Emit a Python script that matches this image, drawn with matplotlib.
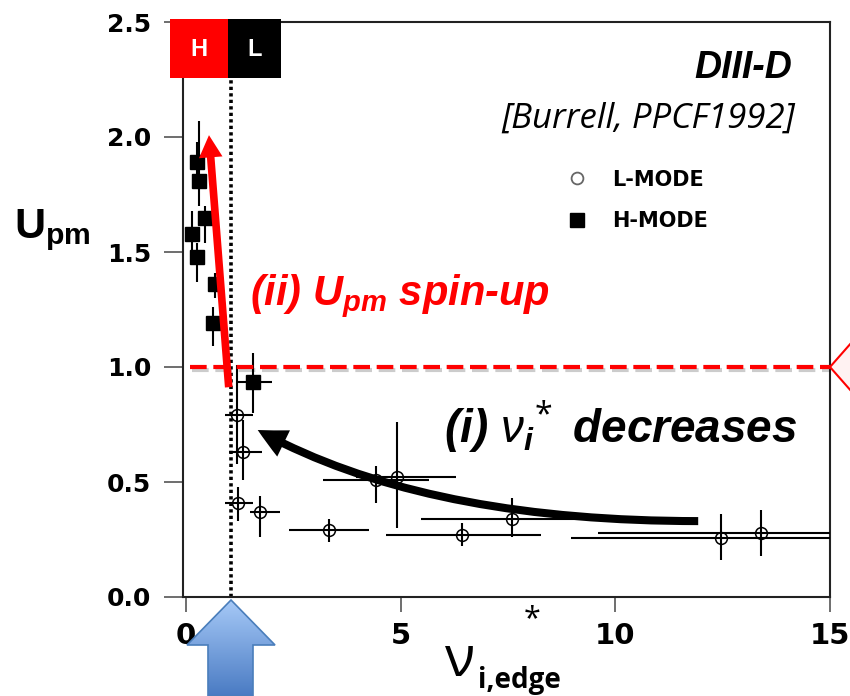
import numpy as np
import matplotlib.pyplot as plt
from matplotlib.patches import Polygon, Rectangle, FancyArrowPatch, ArrowStyle
from matplotlib.path import Path
from matplotlib.lines import Line2D
from matplotlib.colors import LinearSegmentedColormap
import matplotlib.patheffects as pe

plt.rcParams['mathtext.fontset'] = 'custom'
plt.rcParams['mathtext.rm'] = 'Open Sans'
plt.rcParams['mathtext.it'] = 'Liberation Sans:italic:bold'
plt.rcParams['mathtext.bf'] = 'Liberation Sans:bold'
plt.rcParams['mathtext.sf'] = 'Liberation Sans:italic'

# H-mode points (filled squares), bounds of the error bars
h_x = np.array([0.26, 0.30, 0.44, 0.14, 0.26, 0.67, 0.63, 1.55])
h_y = np.array([1.89, 1.81, 1.65, 1.58, 1.48, 1.36, 1.19, 0.935])
h_xlo = np.array([0.12, 0.16, 0.32, 0.02, 0.12, 0.55, 0.50, 1.18])
h_xhi = np.array([0.40, 0.44, 0.58, 0.28, 0.42, 0.80, 0.76, 2.00])
h_ylo = np.array([1.80, 1.70, 1.54, 1.50, 1.37, 1.30, 1.09, 0.80])
h_yhi = np.array([1.98, 2.07, 1.70, 1.68, 1.54, 1.41, 1.26, 1.06])

# L-mode points (open circles)
l_x = np.array([1.18, 1.32, 1.21, 1.72, 3.34, 4.43, 4.92, 6.43, 7.59, 12.46, 13.39])
l_y = np.array([0.79, 0.63, 0.41, 0.37, 0.29, 0.51, 0.52, 0.27, 0.34, 0.255, 0.28])
l_xlo = np.array([0.90, 1.00, 0.90, 1.48, 2.41, 3.18, 3.97, 4.66, 5.47, 8.96, 9.60])
l_xhi = np.array([1.55, 1.76, 1.55, 2.18, 4.27, 5.66, 6.30, 8.26, 9.84, 16.0, 16.0])
l_ylo = np.array([0.58, 0.51, 0.33, 0.26, 0.24, 0.41, 0.30, 0.22, 0.26, 0.16, 0.18])
l_yhi = np.array([1.01, 0.77, 0.48, 0.44, 0.34, 0.57, 0.76, 0.32, 0.43, 0.36, 0.38])

x_ticks = [0, 5, 10, 15]
y_ticks = [0.0, 0.5, 1.0, 1.5, 2.0, 2.5]
lh_boundary = 1.05
upm_ref = 1.0

fig = plt.figure(figsize=(8.5, 6.96), dpi=100)
ax = fig.add_axes([183 / 850, 99 / 696, 647 / 850, 575 / 696])
ax.set_xlim(-0.07, 15.0)
ax.set_ylim(0, 2.5)

ax.errorbar(l_x, l_y, xerr=[l_x - l_xlo, l_xhi - l_x], yerr=[l_y - l_ylo, l_yhi - l_y],
            fmt='o', ms=8.5, mfc='none', mec='black', mew=1.1, ecolor='black',
            elinewidth=1.5, capsize=0, zorder=3)
ax.errorbar(h_x, h_y, xerr=[h_x - h_xlo, h_xhi - h_x], yerr=[h_y - h_ylo, h_yhi - h_y],
            fmt='s', ms=10.5, mfc='black', mec='black', ecolor='black',
            elinewidth=1.5, capsize=0, zorder=3)

# reference lines
ax.vlines(lh_boundary, 0, 2.26, colors='black', lw=2.6, linestyles=(0, (0.9, 0.9)), zorder=2)
ax.hlines(upm_ref, 0.1, 15, colors='red', lw=3, linestyles=(0, (4, 1.6)), zorder=4,
          path_effects=[pe.SimpleLineShadow(offset=(1.5, -2), alpha=0.2), pe.Normal()])

ax.set_xticks(x_ticks)
ax.set_xticklabels([str(t) for t in x_ticks], fontsize=21, fontweight='bold')
ax.set_yticks(y_ticks)
ax.set_yticklabels([f'{t:.1f}' for t in y_ticks], fontsize=18, fontweight='bold')
ax.tick_params(axis='y', direction='out', length=14, width=1.2, color='#555555', pad=9)
ax.tick_params(axis='x', direction='out', length=11, width=1.2, color='#555555', pad=7)
for s in ax.spines.values():
    s.set_linewidth(1.5)
    s.set_color('#222222')

# legend
handles = [Line2D([], [], ls='', marker='o', ms=8.5, mfc='white', mec='#666666', mew=1.3),
           Line2D([], [], ls='', marker='s', ms=9.5, mfc='black', mec='black')]
ax.legend(handles, ['L-MODE', 'H-MODE'], loc='upper left', bbox_to_anchor=(8.42, 1.94),
          bbox_transform=ax.transData, frameon=False, handlelength=1.0, handletextpad=1.2,
          labelspacing=1.05, prop={'family': 'DejaVu Sans', 'weight': 'bold', 'size': 15})

# annotation texts
ax.text(14.13, 2.30, 'DIII-D', ha='right', va='center', fontsize=27,
        family='Liberation Sans', weight='bold', style='italic')
ax.text(14.18, 2.08, '[Burrell, PPCF1992]', ha='right', va='center', fontsize=25,
        family='Open Sans', style='italic')
ax.text(1.49, 1.27, r'(ii) $\mathit{U_{pm}}$ spin-up', ha='left', va='baseline', fontsize=30,
        color='red', family='Liberation Sans', weight='bold', style='italic')
ax.text(14.25, 0.67, r'(i) $\mathsf{\nu}_{i}{}^{*}\,$ decreases', ha='right', va='baseline', fontsize=33,
        color='black', family='Liberation Sans', weight='bold', style='italic')

# arrows
red_arrow = FancyArrowPatch((1.0, 0.90), (0.53, 2.02),
                            arrowstyle=ArrowStyle.Simple(head_length=1.6, head_width=1.7, tail_width=0.55),
                            mutation_scale=10, fc='red', ec='none', lw=0, zorder=6)
ax.add_patch(red_arrow)
curve = Path([(11.93, 0.33), (5.5, 0.33), (1.67, 0.726)], [Path.MOVETO, Path.CURVE3, Path.CURVE3])
black_arrow = FancyArrowPatch(path=curve,
                              arrowstyle=ArrowStyle.Simple(head_length=2.1, head_width=2.1, tail_width=0.58),
                              mutation_scale=10, fc='black', ec='none', lw=0, zorder=6,
                              transform=ax.transData)
ax.add_patch(black_arrow)

# overlay in pixel coordinates for decorations outside the axes
ov = fig.add_axes([0, 0, 1, 1], zorder=5)
ov.patch.set_alpha(0)
ov.axis('off')

ov.add_patch(Rectangle((170, 19), 58, 59, fc='#ff0000', ec='none'))
ov.add_patch(Rectangle((228, 19), 53, 59, fc='black', ec='none'))
ov.text(199, 49, 'H', color='white', ha='center', va='center', fontsize=17,
        family='Liberation Sans', weight='bold')
ov.text(255, 49, 'L', color='white', ha='center', va='center', fontsize=17,
        family='Liberation Sans', weight='bold')

ov.add_patch(Polygon([(830, 367), (852, 342), (852, 392)], closed=True,
                     fc='#fff2f2', ec='red', lw=1.5))

blue_pts = [(231, 600), (275, 645), (253, 645), (253, 696), (208, 696), (208, 645), (187, 645)]
blue = Polygon(blue_pts, closed=True, fc='none', ec='#4a7ebb', lw=1.2, zorder=3)
ov.add_patch(blue)
grad = np.linspace(0, 1, 200).reshape(-1, 1)
cmap = LinearSegmentedColormap.from_list('blue_arrow', ['#a6c9f7', '#4a7bc3'])
im = ov.imshow(grad, extent=(187, 275, 696, 600), cmap=cmap, aspect='auto', zorder=2)
im.set_clip_path(blue)

# axis labels
fig.text(14 / 850, 1 - 230 / 696, r'$\mathbf{U_{pm}}$', fontsize=31, ha='left', va='center')
ov.text(445, 676, 'ν', fontsize=40, family='Open Sans', ha='left', va='baseline')
ov.text(478, 688, 'i,edge', fontsize=20, family='Open Sans', weight='bold', ha='left', va='baseline')
ov.text(524, 627, '*', fontsize=22, family='Open Sans', ha='left', va='baseline')

ov.set_xlim(0, 850)
ov.set_ylim(696, 0)

fig.savefig('out.png', dpi=100)
